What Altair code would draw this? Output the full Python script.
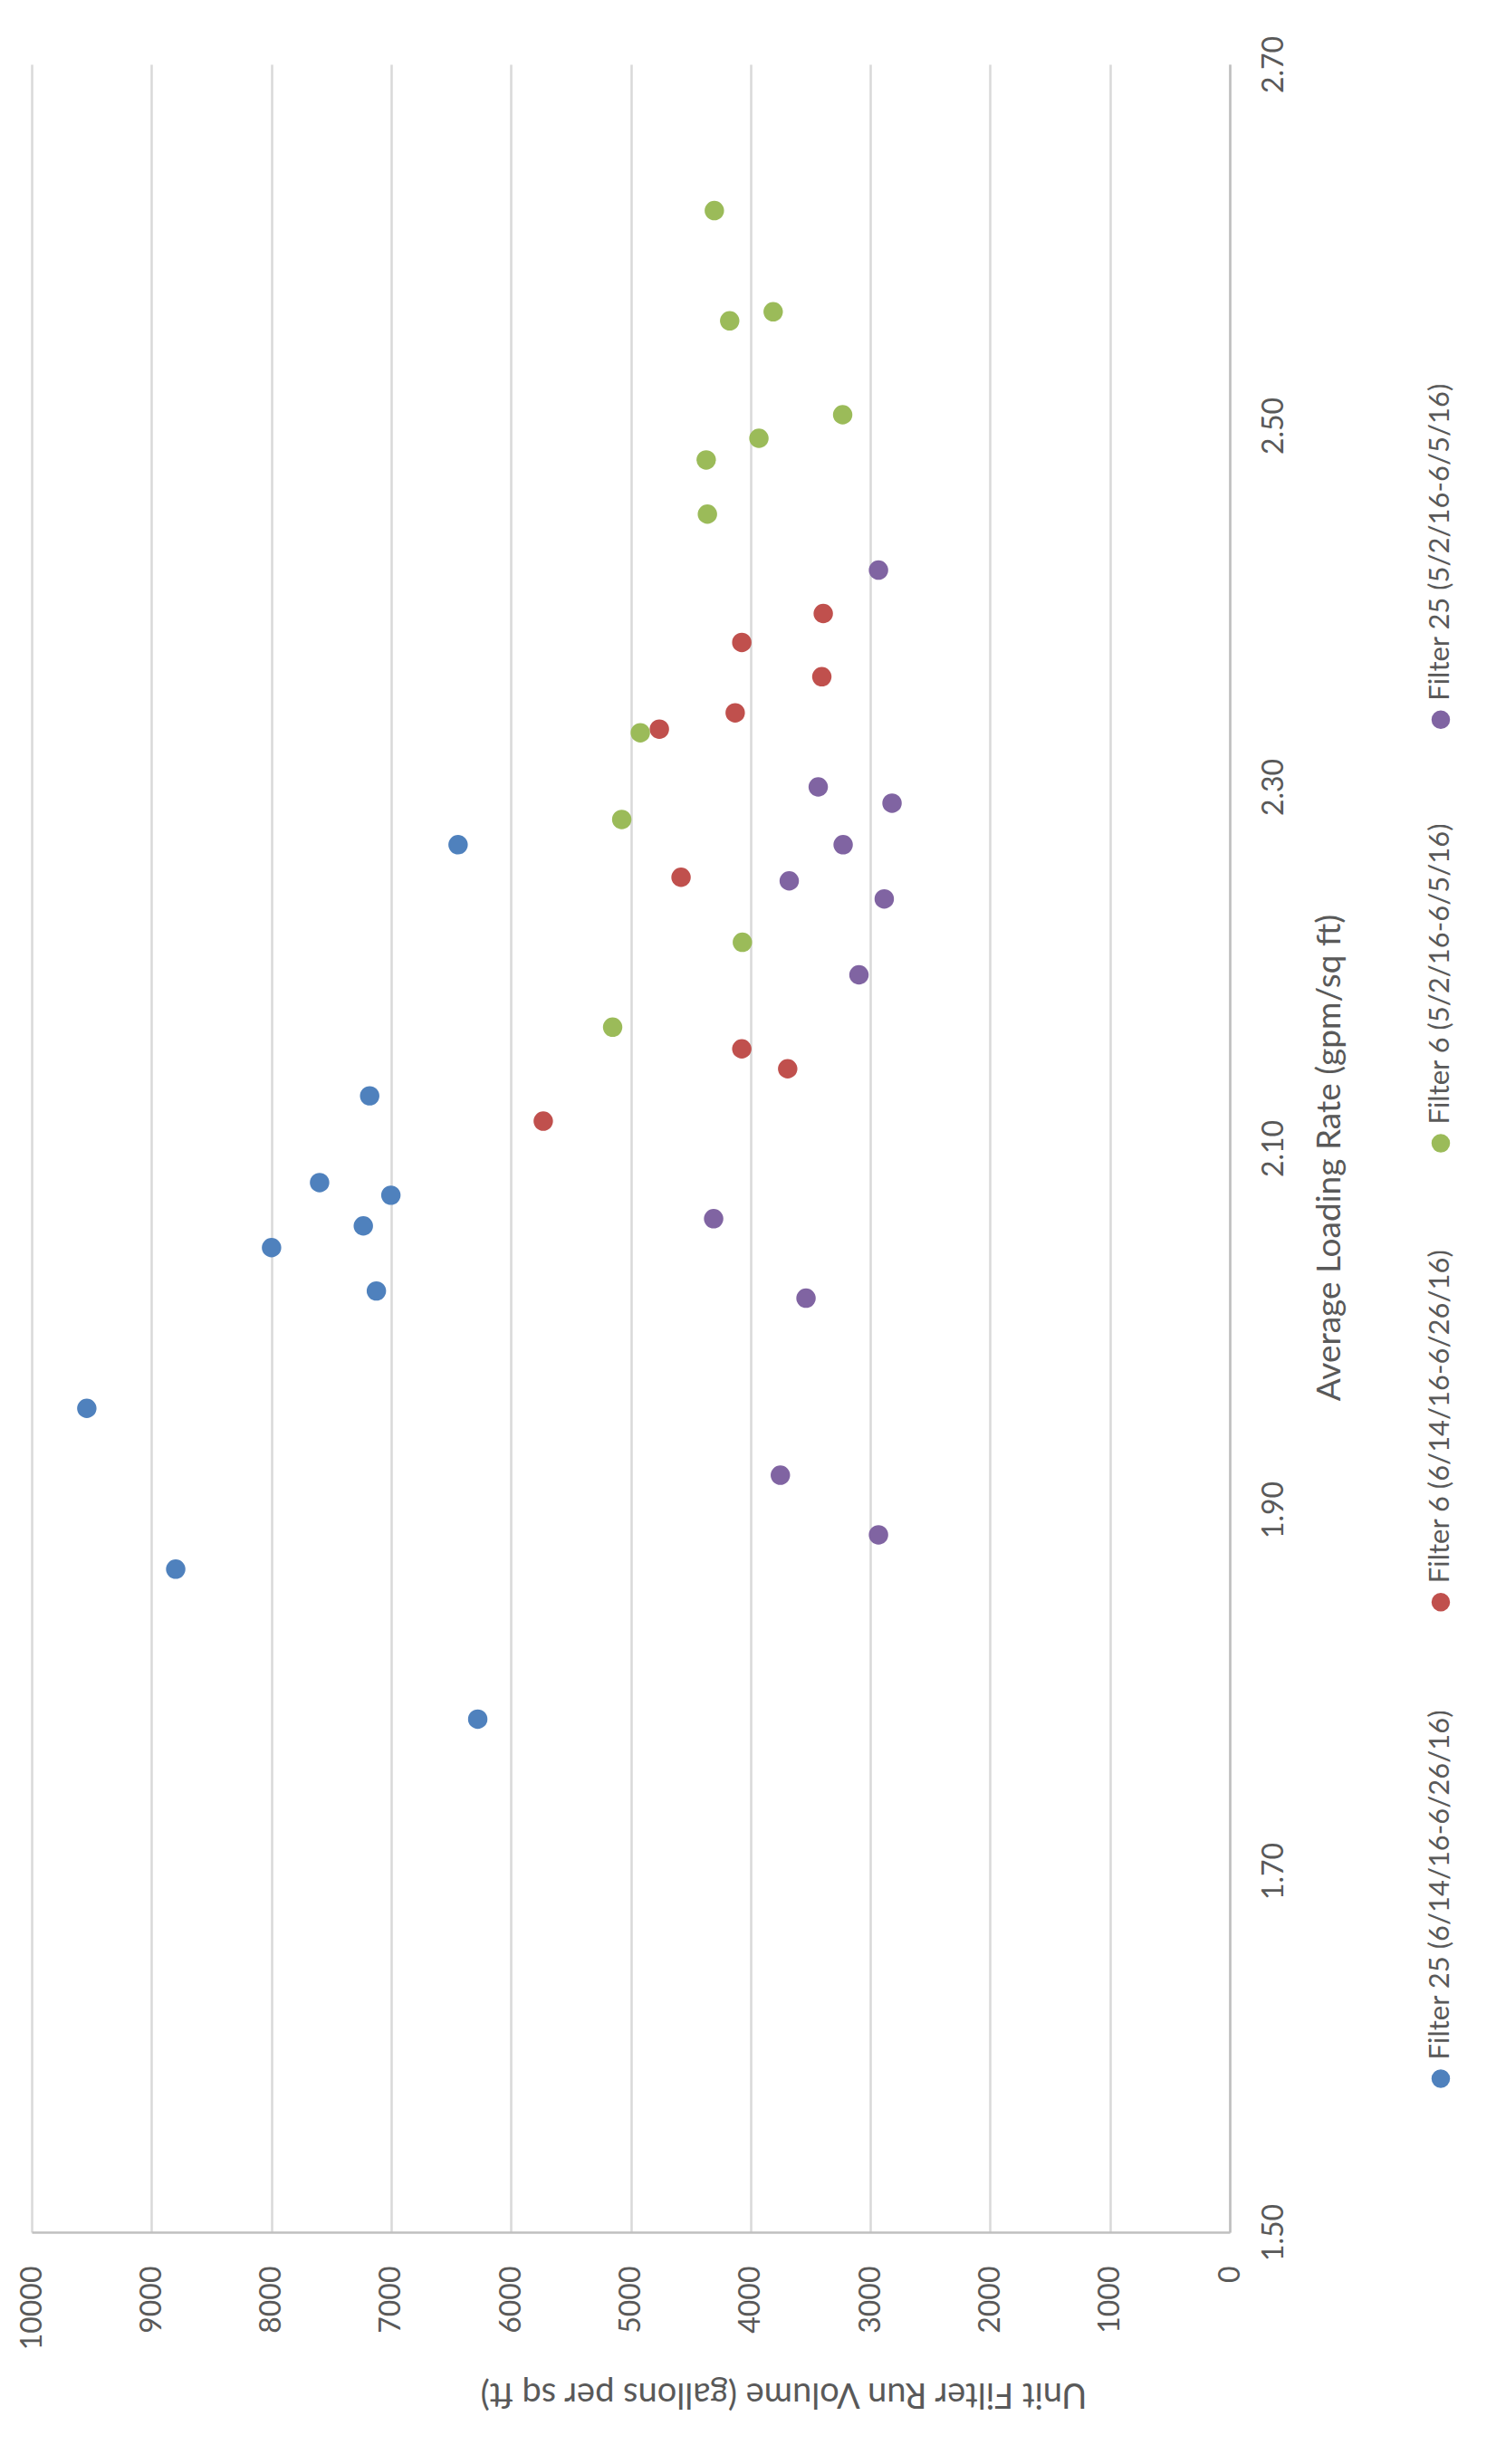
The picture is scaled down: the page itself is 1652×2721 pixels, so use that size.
import altair as alt
import pandas as pd

# Series names (drawing order) and Office-style marker colours
SERIES = [
    "Filter 25 (6/14/16-6/26/16)",
    "Filter 6 (6/14/16-6/26/16)",
    "Filter 6 (5/2/16-6/5/16)",
    "Filter 25 (5/2/16-6/5/16)",
]
COLORS = ["#4F81BD", "#C0504D", "#9BBB59", "#8064A2"]

# Filter 25, 6/14/16-6/26/16
f25_jun_rate = [2.268, 2.129, 2.081, 2.074, 2.057, 2.045, 2.021, 1.956, 1.867, 1.784]
f25_jun_volume = [6441, 7179, 7597, 7002, 7232, 7998, 7123, 9540, 8798, 6277]

# Filter 6, 6/14/16-6/26/16
f6_jun_rate = [2.396, 2.380, 2.361, 2.341, 2.332, 2.250, 2.155, 2.144, 2.115]
f6_jun_volume = [3393, 4073, 3405, 4128, 4761, 4580, 4073, 3690, 5730]

# Filter 6, 5/2/16-6/5/16
f6_may_rate = [2.619, 2.563, 2.558, 2.506, 2.493, 2.481, 2.451, 2.330, 2.282, 2.214, 2.167]
f6_may_volume = [4302, 3811, 4174, 3231, 3930, 4370, 4360, 4920, 5075, 4068, 5151]

# Filter 25, 5/2/16-6/5/16
f25_may_rate = [2.420, 2.300, 2.291, 2.268, 2.248, 2.238, 2.196, 2.061, 2.017, 1.919, 1.886]
f25_may_volume = [2932, 3435, 2819, 3227, 3677, 2884, 3095, 4308, 3537, 3751, 2932]

# Axis ticks
volume_ticks = [0, 1000, 2000, 3000, 4000, 5000, 6000, 7000, 8000, 9000, 10000]
rate_ticks = [1.5, 1.7, 1.9, 2.1, 2.3, 2.5, 2.7]

TEXT = "#595959"
FONT = "Lato"

frames = []
for name, rate, vol in [
    (SERIES[0], f25_jun_rate, f25_jun_volume),
    (SERIES[1], f6_jun_rate, f6_jun_volume),
    (SERIES[2], f6_may_rate, f6_may_volume),
    (SERIES[3], f25_may_rate, f25_may_volume),
]:
    frames.append(pd.DataFrame({"series": name, "rate": rate, "volume": vol}))
df = pd.concat(frames, ignore_index=True)
df["order"] = range(len(df))

# Legend entries are spaced along the right edge in proportion to label length
legend_df = pd.DataFrame({"series": SERIES})
lengths = [len(s) for s in SERIES]
legend_df["slot"] = [sum(lengths[:i]) for i in range(len(SERIES))]

color = alt.Color(
    "series:N",
    scale=alt.Scale(domain=SERIES, range=COLORS),
    legend=None,
)

points = alt.Chart(df).mark_circle(size=460, opacity=1).encode(
    x=alt.X(
        "volume:Q",
        scale=alt.Scale(domain=[0, 10000], reverse=True, nice=False),
        axis=alt.Axis(
            orient="bottom",
            values=volume_ticks,
            format="d",
            labelAngle=270,
            labelAlign="right",
            labelBaseline="middle",
            labelPadding=37,
            labelFlush=False,
            labelOverlap=False,
            labelFont=FONT,
            labelFontSize=32,
            labelColor=TEXT,
            ticks=False,
            domainColor="#BFBFBF",
            domainWidth=2.5,
            grid=True,
            gridColor="#D9D9D9",
            gridWidth=2.5,
            title="Unit Filter Run Volume (gallons per sq ft)",
            titleAngle=180,
            titleAlign="center",
            titleBaseline="alphabetic",
            titleX=830,
            titleY=166,
            titleFont=FONT,
            titleFontSize=38,
            titleFontWeight="normal",
            titleColor=TEXT,
        ),
    ),
    y=alt.Y(
        "rate:Q",
        scale=alt.Scale(domain=[1.5, 2.7], nice=False, zero=False),
        axis=alt.Axis(
            orient="right",
            values=rate_ticks,
            format=".2f",
            labelAngle=270,
            labelAlign="center",
            labelBaseline="top",
            labelPadding=33,
            labelFlush=False,
            labelOverlap=False,
            labelFont=FONT,
            labelFontSize=32,
            labelColor=TEXT,
            ticks=False,
            grid=False,
            domainColor="#BFBFBF",
            domainWidth=2.5,
            title="Average Loading Rate (gpm/sq ft)",
            titleAngle=270,
            titleAlign="center",
            titleBaseline="alphabetic",
            titleX=121,
            titleY=1207,
            titleFont=FONT,
            titleFontSize=37,
            titleFontWeight="normal",
            titleColor=TEXT,
        ),
    ),
    color=color,
    order=alt.Order("order:Q"),
)

legend_y = alt.Y("slot:Q", scale=alt.Scale(domain=[-8.7, 114.14], nice=False, zero=False), axis=None)

legend_dots = alt.Chart(legend_df).mark_circle(size=420, opacity=1).encode(
    x=alt.value(1556),
    y=legend_y,
    color=color,
)

legend_text = alt.Chart(legend_df).mark_text(
    angle=270,
    align="left",
    baseline="middle",
    yOffset=-21,
    font=FONT,
    fontSize=31,
    color=TEXT,
).encode(
    x=alt.value(1556),
    y=legend_y,
    text="series:N",
)

chart = (
    alt.layer(points, legend_dots, legend_text)
    .resolve_scale(y="independent")
    .properties(
        width=1323,
        height=2394,
        autosize=alt.AutoSizeParams(type="none"),
        padding={"left": 35, "top": 71, "right": 294, "bottom": 256},
        background="white",
    )
    .configure_view(stroke=None)
)

chart.save("out.html", embed_options={"renderer": "svg", "actions": False})
